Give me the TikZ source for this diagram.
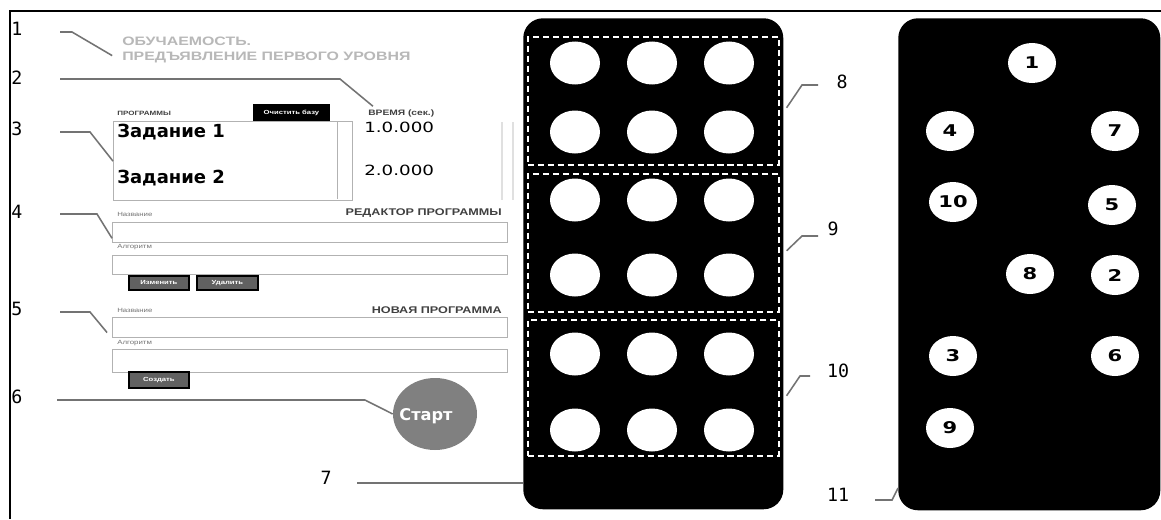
\documentclass[tikz,border=0pt]{standalone}
\usepackage{fontspec}
\setmainfont{DejaVu Sans}
\newfontfamily\uifont[FakeStretch=1.3]{Liberation Sans}
\newfontfamily\numfont[FakeStretch=1.3]{DejaVu Sans}
\newfontfamily\calloutfont{DejaVu Sans Mono}
\usetikzlibrary{positioning, shapes.geometric}
\def\upx{0.025cm}

\begin{document}
\begin{tikzpicture}[
  x=0.025cm, y=-0.025cm,
  callout/.style={font=\calloutfont\fontsize{13}{13}\selectfont, inner sep=0pt},
  leader/.style={draw=black!55, line width=1.1pt},
  heading/.style={font=\uifont\bfseries\fontsize{6.9}{8}\selectfont, text=black!75, inner sep=0pt},
  caption/.style={font=\uifont\fontsize{4.3}{5}\selectfont, text=black!55, inner sep=0pt, anchor=west},
  field/.style={draw=black!30, line width=0.9pt, fill=white, inner sep=0pt, anchor=north west,
    minimum width=395*\upx},
  btn/.style={draw=black, line width=1.3pt, fill=black!62, text=white, inner sep=0pt,
    anchor=north west, font=\uifont\bfseries\fontsize{4.2}{5}\selectfont},
  panel/.style={fill=black, rounded corners=14pt, inner sep=0pt, anchor=north west},
  group/.style={draw=white, line width=1.1pt, dash pattern=on 4.3pt off 2.8pt, inner sep=0pt,
    anchor=north west, minimum width=251*\upx},
  hole/.style={ellipse, fill=white, minimum width=50*\upx, minimum height=43*\upx, inner sep=0pt},
  numdot/.style={ellipse, fill=white, minimum width=48*\upx, minimum height=40*\upx, inner sep=0pt,
    font=\numfont\bfseries\fontsize{11.5}{12}\selectfont}
]
\useasboundingbox (0,0) rectangle (1161,519);
\fill[white] (0,0) rectangle (1161,519);

% frame
\draw[line width=1.4pt] (1161,11) -- (10,11) -- (10,519);

% callout numbers
\node[callout] (n1) at (17,29) {1};
\node[callout] (n2) at (17,78) {2};
\node[callout] (n3) at (17,129) {3};
\node[callout] (n4) at (17,212) {4};
\node[callout] (n5) at (17,309) {5};
\node[callout] (n6) at (17,397) {6};
\node[callout] (n7) at (326,478) {7};
\node[callout] (n8) at (842,82) {8};
\node[callout] (n9) at (833,229) {9};
\node[callout] (n10) at (838,371) {10};
\node[callout] (n11) at (838,495) {11};

% window
\node[font=\uifont\bfseries\fontsize{8.7}{9}\selectfont, text=black!28, inner sep=0pt, anchor=west]
  (title1) at (122,41) {ОБУЧАЕМОСТЬ.};
\node[font=\uifont\bfseries\fontsize{8.7}{9}\selectfont, text=black!28, inner sep=0pt, anchor=west]
  (title2) at (122,57) {ПРЕДЪЯВЛЕНИЕ ПЕРВОГО УРОВНЯ};

\node[heading, anchor=west, font=\uifont\bfseries\fontsize{4.4}{5}\selectfont] (progs) at (117,113) {ПРОГРАММЫ};
\node[btn, fill=black, minimum width=75*\upx, minimum height=16*\upx] (clear) at (253,104) {Очистить базу};
\node[heading, anchor=west, font=\uifont\bfseries\fontsize{5.6}{6}\selectfont] (time) at (368,113) {ВРЕМЯ (сек.)};

\node[field, minimum width=239*\upx, minimum height=79*\upx] (list) at (113,121) {};
\draw[black!30, line width=0.6pt] (337,122) -- (337,199);
\draw[black!12, line width=0.8pt] (502,122) -- (502,200);
\draw[black!12, line width=0.8pt] (513,122) -- (513,200);
\node[font=\bfseries\fontsize{12.8}{13}\selectfont, inner sep=0pt, anchor=base west] (task1) at (117,137) {Задание 1};
\node[font=\bfseries\fontsize{12.8}{13}\selectfont, inner sep=0pt, anchor=base west] (task2) at (117,183) {Задание 2};
\node[font=\numfont\fontsize{10}{10}\selectfont, inner sep=0pt, anchor=base west] (time1) at (364,132) {1.0.000};
\node[font=\numfont\fontsize{10}{10}\selectfont, inner sep=0pt, anchor=base west] (time2) at (364,175) {2.0.000};

\node[caption] (nameA) at (117,214) {Название};
\node[heading, anchor=east] (editor) at (502,213) {РЕДАКТОР ПРОГРАММЫ};
\node[field, minimum height=20*\upx] (fieldA) at (112,222) {};
\node[caption] (algA) at (117,247) {Алгоритм};
\node[field, minimum height=19*\upx] (fieldB) at (112,255) {};
\node[btn, minimum width=60*\upx, minimum height=14*\upx] (change) at (128,275) {Изменить};
\node[btn, minimum width=61*\upx, minimum height=14*\upx] (delete) at (196,275) {Удалить};

\node[caption] (nameB) at (117,310) {Название};
\node[heading, anchor=east] (newprog) at (502,310) {НОВАЯ ПРОГРАММА};
\node[field, minimum height=20*\upx] (fieldC) at (112,317) {};
\node[caption] (algB) at (117,343) {Алгоритм};
\node[field, minimum height=23*\upx] (fieldD) at (112,349) {};
\node[btn, minimum width=60*\upx, minimum height=16*\upx] (create) at (128,371) {Создать};

\node[ellipse, fill=black!50, minimum width=84*\upx, minimum height=72*\upx, inner sep=0pt] (start) at (435,414) {};
\node[font=\bfseries\fontsize{11.5}{12}\selectfont, text=white, inner sep=0pt] (startlbl) at (426,416) {Старт};

% keypad with groups
\node[panel, minimum width=260*\upx, minimum height=491*\upx] (panelA) at (523,18) {};
\node[group, minimum height=128*\upx] (groupA) at (527,36) {};
\node[group, minimum height=138*\upx] (groupB) at (527,173) {};
\node[group, minimum height=136*\upx] (groupC) at (527,319) {};
\foreach \g/\ya/\yb in {1/63/132, 2/200/275, 3/354/430}
  \foreach \c/\x in {1/575, 2/652, 3/729} {
    \node[hole] (h\g a\c) at (\x,\ya) {};
    \node[hole] (h\g b\c) at (\x,\yb) {};
  }

% numbered keypad
\node[panel, minimum width=262*\upx, minimum height=492*\upx] (panelB) at (898,18) {};
\foreach \n/\x/\y in {1/1032/63, 4/950/131, 7/1115/131, 10/953/202, 5/1112/205,
    8/1030/274, 2/1115/275, 3/953/356, 6/1115/356, 9/950/428}
  \node[numdot] (k\n) at (\x,\y) {\n};

% leaders
\coordinate (a1) at (60,32);   \coordinate (b1) at (72,32);
\coordinate (a2) at (60,79);   \coordinate (b2) at (340,79);
\coordinate (a3) at (60,132);  \coordinate (b3) at (90,132);
\coordinate (a4) at (60,214);  \coordinate (b4) at (97,214);
\coordinate (a5) at (60,312);  \coordinate (b5) at (90,312);
\coordinate (a6) at (57,400);  \coordinate (b6) at (365,400);
\coordinate (a7) at (357,483);
\coordinate (a8) at (818,85);  \coordinate (b8) at (802,85);
\coordinate (a9) at (818,236); \coordinate (b9) at (802,236);
\coordinate (a10) at (810,376); \coordinate (b10) at (800,376);
\coordinate (a11) at (875,500); \coordinate (b11) at (892,500);

\draw[leader] (a1) -- (b1) -- ([xshift=-7pt,yshift=1pt]title2.west);
\draw[leader] (a2) -- (b2) -- ([xshift=3.5pt,yshift=2pt]time.north west);
\draw[leader] (a3) -- (b3) -- (list.west);
\draw[leader] (a4) -- (b4) -- ([yshift=-4pt]fieldA.west);
\draw[leader] (a5) -- (b5) -- ([xshift=-3.5pt,yshift=-3.5pt]fieldC.west);
\draw[leader] (a6) -- (b6) -- (start.west);
\draw[leader] (a7) -- (panelA.west |- a7);
\draw[leader] (a8) -- (b8) -- ([xshift=5pt,yshift=-5pt]groupA.east);
\draw[leader] (a9) -- (b9) -- ([xshift=5pt,yshift=-5.7pt]groupB.east);
\draw[leader] (a10) -- (b10) -- ([xshift=5pt,yshift=-5.7pt]groupC.east);
\draw[leader] (a11) -- (b11) -- ([yshift=16pt]panelB.south west);
\end{tikzpicture}
\end{document}
